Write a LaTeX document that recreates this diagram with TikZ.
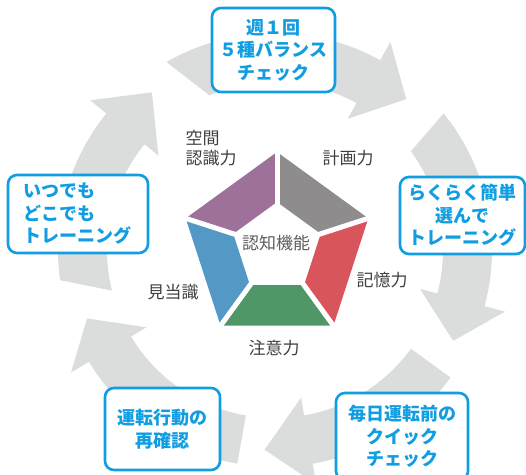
\documentclass[tikz,border=0pt]{standalone}
\usepackage{fontspec}
\newfontfamily\jp{Noto Sans CJK JP}
\definecolor{ringgray}{RGB}{219,220,220}
\definecolor{bl}{RGB}{16,157,225}
\definecolor{lab}{RGB}{64,64,64}
\definecolor{cpurple}{RGB}{158,113,155}
\definecolor{cgray}{RGB}{142,140,141}
\definecolor{cred}{RGB}{217,85,92}
\definecolor{cblue}{RGB}{84,152,198}
\definecolor{cgreen}{RGB}{80,151,104}
% tail outer angle, tail inner angle, head base angle, tip angle
\newcommand\ringarrow[4]{%
  \fill[ringgray] (#1:217) arc[start angle=#1,end angle=#3,radius=217pt]
    -- (#3:238) -- (#4:200) -- (#3:150) -- (#3:168)
    arc[start angle=#3,end angle=#2,radius=168pt] -- cycle;}
\newcommand\pseg[3]{%
  \fill[#3] ($(pc)+(#1:96)$) -- ($(pc)+(#2:96)$) -- ($(pc)+(#2:46)$) -- ($(pc)+(#1:46)$) -- cycle;}
\usetikzlibrary{calc}
\tikzset{
  bbox/.style={draw=bl, line width=2.6pt, fill=white, rounded corners=9pt, inner sep=0pt,
    text=bl, font=\jp\bfseries\fontsize{18}{22.5}\selectfont, align=center},
  lbl/.style={text=lab, font=\jp\fontsize{17}{20}\selectfont, inner sep=0pt}
}
\begin{document}
\begin{tikzpicture}[x=1pt,y=1pt]
\useasboundingbox (-275,-224) rectangle (251,250);
\clip (-275,-224) rectangle (251,250);
% cycle arrows
\ringarrow{120}{113}{61}{49}
\ringarrow{39}{36}{-15}{-27}
\ringarrow{-36}{-36}{-80}{-93}
\ringarrow{-100}{-100}{-149}{-160}
\ringarrow{-172}{-166}{-219}{-232}
% boxes
\node[bbox, minimum width=123, minimum height=84] (b1) at (-1.5,200) {週１回\\５種バランス\\チェック};
\node[bbox, minimum width=125, minimum height=77] (b2) at (187.5,34.5) {らくらく簡単\\選んで\\トレーニング};
\node[bbox, minimum width=132, minimum height=87] (b3) at (127,-186.5) {毎日運転前の\\クイック\\チェック};
\node[bbox, minimum width=115, minimum height=82] (b4) at (-112.5,-179) {運転行動の\\再確認};
\node[bbox, minimum width=140, minimum height=78, align=left] (b5) at (-197,36) {いつでも\\どこでも\\トレーニング};
% pentagon
\coordinate (pc) at (2,2);
\pseg{90}{162}{cpurple}
\pseg{18}{90}{cgray}
\pseg{-54}{18}{cred}
\pseg{234}{306}{cgreen}
\pseg{162}{234}{cblue}
\foreach \a in {18,90,162,234,306}
  \draw[white, line width=5pt] ($(pc)+(\a:40)$) -- ($(pc)+(\a:102)$);
\node[lbl, text=lab!85] (core) at (1,7) {認知機能};
\node[lbl, align=left] (l1) at (-64,102) {空間\\認識力};
\node[lbl] (l2) at (73,92) {計画力};
\node[lbl] (l3) at (107,-30) {記憶力};
\node[lbl] (l4) at (-1,-98) {注意力};
\node[lbl] (l5) at (-102,-42) {見当識};
\end{tikzpicture}
\end{document}
